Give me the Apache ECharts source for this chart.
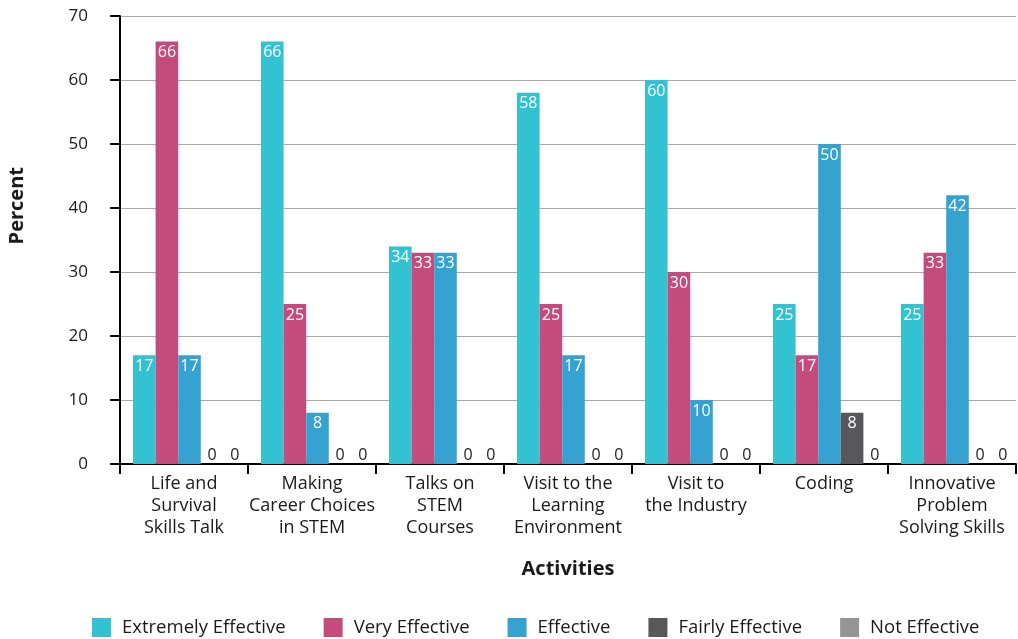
<!DOCTYPE html>
<html>
<head>
<meta charset="utf-8">
<style>
  html, body { margin: 0; padding: 0; background: #fff; }
  #chart { width: 1018px; height: 639px; }
</style>
<script src="https://cdn.jsdelivr.net/npm/echarts@6/dist/echarts.min.js"></script>
</head>
<body>
<div id="chart"></div>
<script>
// Activities on the category axis
const categories = [
  'Life and\nSurvival\nSkills Talk',
  'Making\nCareer Choices\nin STEM',
  'Talks on\nSTEM\nCourses',
  'Visit to the\nLearning\nEnvironment',
  'Visit to\nthe Industry',
  'Coding',
  'Innovative\nProblem\nSolving Skills'
];

// Percent of respondents per rating
const extremelyEffective = [17, 66, 34, 58, 60, 25, 25];
const veryEffective      = [66, 25, 33, 25, 30, 17, 33];
const effective          = [17, 8, 33, 17, 10, 50, 42];
const fairlyEffective    = [0, 0, 0, 0, 0, 8, 0];
const notEffective       = [0, 0, 0, 0, 0, 0, 0];

const yTicks = [0, 10, 20, 30, 40, 50, 60, 70];

const FONT = '"Open Sans", sans-serif';
const TEXT = '#1a1a1a';
const BAR_W = 22.6;

// Non-zero bars carry a white value inside the top; zero bars show a dark "0" on the baseline
function withLabels(values) {
  return values.map(v => v === 0
    ? { value: v, label: { position: 'top', distance: 1, color: TEXT } }
    : { value: v });
}

function barSeries(name, values, color) {
  return {
    name: name,
    type: 'bar',
    data: withLabels(values),
    barGap: '0%',
    barWidth: BAR_W,
    itemStyle: { color: color },
    label: {
      show: true,
      position: 'insideTop',
      distance: 3,
      color: '#ffffff',
      fontFamily: FONT,
      fontSize: 16
    }
  };
}

const chart = echarts.init(document.getElementById('chart'), null, { renderer: 'canvas' });

chart.setOption({
  animation: false,
  backgroundColor: '#ffffff',
  grid: { left: 120, right: 2, top: 16, bottom: 175, containLabel: false },
  legend: {
    left: 92,
    top: 618,
    padding: 0,
    itemWidth: 19,
    itemHeight: 19,
    itemGap: 38,
    icon: 'rect',
    textStyle: { fontFamily: FONT, fontSize: 18.5, color: TEXT, padding: [0, 0, 0, 6] },
    data: ['Extremely Effective', 'Very Effective', 'Effective', 'Fairly Effective', 'Not Effective']
  },
  xAxis: {
    type: 'category',
    data: categories,
    name: 'Activities',
    nameLocation: 'middle',
    nameGap: 95,
    nameTextStyle: { fontFamily: FONT, fontSize: 20, fontWeight: 'bold', color: TEXT, verticalAlign: 'top' },
    axisLine: { lineStyle: { color: '#000', width: 2 } },
    axisTick: { show: true, length: 10, lineStyle: { color: '#000', width: 2 } },
    axisLabel: { fontFamily: FONT, fontSize: 18, color: TEXT, margin: 9, lineHeight: 22, interval: 0 }
  },
  yAxis: {
    type: 'value',
    min: yTicks[0],
    max: yTicks[yTicks.length - 1],
    interval: 10,
    axisLine: { show: true, lineStyle: { color: '#000', width: 2 } },
    axisTick: { show: true, length: 10, lineStyle: { color: '#000', width: 2 } },
    axisLabel: { fontFamily: FONT, fontSize: 17, color: TEXT, margin: 32 },
    splitLine: { show: true, lineStyle: { color: '#aaaaaa', width: 1 } }
  },
  graphic: [{
    type: 'text',
    left: 7,
    top: 167,
    rotation: Math.PI / 2,
    style: { text: 'Percent', fontFamily: FONT, fontSize: 20, fontWeight: 'bold', fill: TEXT }
  }],
  series: [
    // empty leading slot: the bar cluster sits toward the right of each category band
    { name: 'spacer', type: 'bar', data: [], barGap: '0%', barWidth: 11, silent: true },
    barSeries('Extremely Effective', extremelyEffective, '#32c2d2'),
    barSeries('Very Effective', veryEffective, '#c44c7d'),
    barSeries('Effective', effective, '#36a2cf'),
    barSeries('Fairly Effective', fairlyEffective, '#58585a'),
    barSeries('Not Effective', notEffective, '#959598')
  ]
});
</script>
</body>
</html>
